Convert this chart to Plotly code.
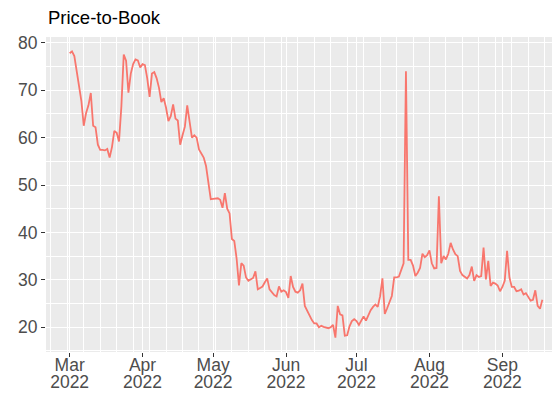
import pandas as pd
import plotly.graph_objects as go

# ---- data (daily price-to-book readings) ----
start_date = "2022-03-01"
mar_values = [77.8, 78.2, 77.2, 74.0, 70.5, 67.7, 62.5, 65.2, 66.8, 69.4,
              62.5, 62.2, 58.5, 57.4, 57.4, 57.3, 57.6, 55.8, 58.0, 61.4,
              61.0, 59.2, 66.6, 77.5, 76.2, 69.5, 73.5, 75.5, 76.5, 76.3,
              74.8]
apr_values = [75.5, 75.3, 72.5, 68.6, 73.5, 73.8, 72.5, 70.5, 67.5, 68.3,
              66.3, 63.5, 64.5, 67.0, 64.0, 63.6, 58.5, 60.5, 62.3, 66.8,
              63.0, 60.0, 60.5, 60.0, 57.5, 56.5, 55.8, 54.0, 50.5, 47.0]
may_values = [47.1, 47.2, 47.2, 46.9, 45.2, 48.3, 45.0, 44.0, 38.6, 38.2,
              34.5, 28.8, 33.5, 33.0, 30.5, 29.8, 30.1, 30.4, 31.8, 28.0,
              28.3, 28.6, 29.5, 30.3, 28.0, 27.4, 26.8, 26.5, 28.6, 27.5,
              27.8]
jun_values = [27.4, 26.2, 30.8, 28.5, 27.5, 27.3, 27.8, 29.2, 24.5, 23.4,
              22.3, 21.5, 20.8, 20.8, 20.0, 20.3, 20.1, 20.0, 19.8, 20.0,
              20.5, 17.8, 24.5, 22.7, 22.5, 18.2, 18.3, 20.2, 21.3, 21.7]
jul_values = [21.3, 20.5, 21.5, 22.3, 21.4, 22.5, 23.6, 24.3, 24.8, 24.3,
              26.5, 30.3, 22.8, 24.0, 25.2, 26.6, 30.5, 30.5, 30.7, 32.0,
              33.5, 74.0, 34.2, 34.2, 33.0, 30.8, 31.5, 32.5, 35.5, 34.8,
              35.2]
aug_values = [36.2, 33.5, 32.4, 32.5, 47.6, 33.5, 35.0, 34.3, 35.5, 37.8,
              36.4, 35.4, 35.0, 31.9, 31.0, 30.7, 30.3, 31.0, 32.8, 29.8,
              31.0, 30.6, 30.8, 36.8, 30.1, 34.0, 28.7, 29.4, 29.2, 28.8,
              27.6]
sep_values = [28.5, 29.8, 36.1, 30.5, 28.5, 28.5, 27.6, 27.7, 28.0, 26.9,
              27.2, 26.3, 25.6, 25.8, 27.8, 24.5, 23.9, 25.8]

tick_dates = ["2022-03-01", "2022-04-01", "2022-05-01", "2022-06-01",
              "2022-07-01", "2022-08-01", "2022-09-01"]
month_labels = ["Mar", "Apr", "May", "Jun", "Jul", "Aug", "Sep"]
year_labels = ["2022", "2022", "2022", "2022", "2022", "2022", "2022"]
y_ticks = [20, 30, 40, 50, 60, 70, 80]
title_text = "Price-to-Book"

values = mar_values + apr_values + may_values + jun_values + jul_values + aug_values + sep_values
dates = pd.date_range(start_date, periods=len(values), freq="D")

# ggplot-like expansion (panel runs to the picture's right edge)
span = dates[-1] - dates[0]
x_left = dates[0] - 0.05 * span
x_right = dates[0] + pd.Timedelta(days=208.5)
vmin, vmax = min(values), max(values)
vspan = vmax - vmin
y_range = [vmin - 0.05 * vspan, vmax + 0.05 * vspan]

fig = go.Figure()
fig.add_trace(go.Scatter(
    x=dates, y=values, mode="lines",
    line=dict(color="#F8766D", width=1.8),
    hoverinfo="skip", showlegend=False,
))
# empty helper trace so the second (year-label) axis gets drawn
fig.add_trace(go.Scatter(
    x=[dates[0]], y=[None], xaxis="x2", yaxis="y", mode="lines",
    hoverinfo="skip", showlegend=False,
))

font_family = "Liberation Sans, Arial, sans-serif"
tick_font = dict(family=font_family, size=17.5, color="#4D4D4D")
fig.update_layout(
    width=552, height=390,
    margin=dict(l=38, r=0, t=29, b=46),
    paper_bgcolor="white",
    plot_bgcolor="#EBEBEB",
    font=dict(family=font_family, size=16, color="#4D4D4D"),
    title=dict(text=title_text, x=0, xref="paper", xanchor="left",
               y=1 - 10 / 390, yref="container", yanchor="middle",
               pad=dict(l=2),
               font=dict(family=font_family, size=18.5, color="black")),
    showlegend=False,
    xaxis=dict(
        type="date",
        range=[x_left, x_right],
        tickmode="array", tickvals=tick_dates, ticktext=month_labels,
        showgrid=True, gridcolor="white", gridwidth=1.4,
        minor=dict(showgrid=True, gridcolor="white", gridwidth=0.7,
                   tickmode="linear", tick0="2022-02-28", dtick=7 * 86400000),
        ticks="outside", ticklen=4, tickcolor="#333333", tickwidth=1,
        tickfont=tick_font, ticklabelstandoff=-7,
        zeroline=False, showline=False,
    ),
    xaxis2=dict(
        type="date",
        range=[x_left, x_right],
        overlaying="x", anchor="y", side="bottom",
        tickmode="array", tickvals=tick_dates, ticktext=year_labels,
        ticks="", showgrid=False, ticklabelstandoff=17,
        tickfont=tick_font,
        zeroline=False, showline=False,
    ),
    yaxis=dict(
        range=y_range,
        tickmode="array", tickvals=y_ticks,
        showgrid=True, gridcolor="white", gridwidth=1.4,
        minor=dict(showgrid=True, gridcolor="white", gridwidth=0.7,
                   tickmode="linear", tick0=0, dtick=5),
        ticks="outside", ticklen=4, tickcolor="#333333", tickwidth=1,
        tickfont=tick_font,
        zeroline=False, showline=False,
    ),
)

fig.write_html("out.html")
